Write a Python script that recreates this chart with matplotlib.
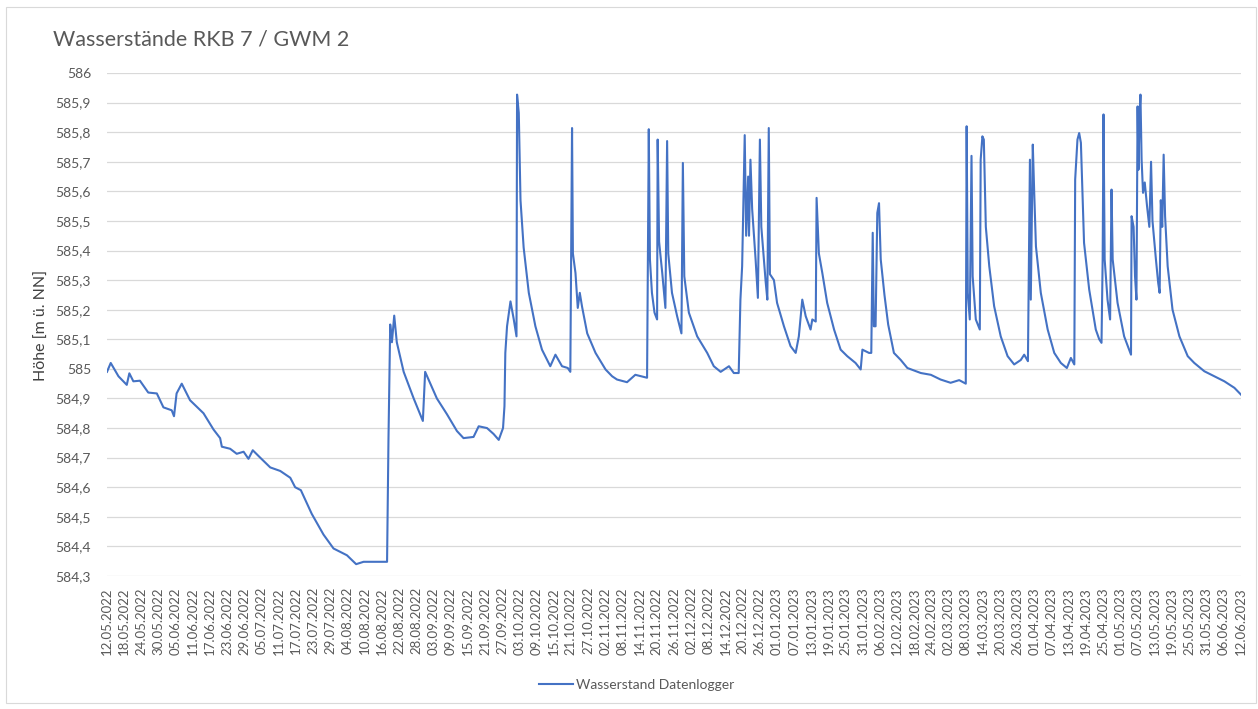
import pandas as pd
import matplotlib
matplotlib.use("Agg")
import matplotlib.pyplot as plt
import matplotlib.dates as mdates
from matplotlib.patches import Rectangle
from matplotlib.ticker import FuncFormatter

plt.rcParams["font.family"] = ["Lato", "DejaVu Sans"]

# Messreihe Datenlogger (Tage ab 12.05.2022, Wasserstand in m ü. NN)
start = pd.Timestamp("2022-05-12")
ende = pd.Timestamp("2023-06-12")

tage = [
    0, 1.3, 4.0, 6.9, 7.8, 9.2, 11.5, 14.4, 17.4, 19.7, 22.6, 23.4, 24.3, 26.1,
    29.0, 33.7, 37.2, 39.5, 40.1, 43.0, 45.3, 47.7, 49.4, 50.9, 53.5, 57.0,
    60.5, 64.0, 65.7, 67.7, 71.5, 75.6, 79.1, 83.8, 87.0, 89.6, 97.8, 98.3,
    98.9, 99.5, 100.3, 101.2, 103.6, 107.1, 110.3, 111.1, 115.2, 118.7, 122.2,
    124.5, 128.0, 129.8, 132.7, 135.0, 136.8, 138.3, 138.8, 139.1, 139.7,
    140.9, 142.0, 143.0, 143.2, 143.8, 144.4, 145.5, 147.3, 149.6, 151.9,
    154.8, 156.6, 158.9, 160.9, 161.8, 162.4, 162.7, 163.6, 164.4, 165.1,
    165.9, 167.7, 170.6, 174.1, 176.4, 178.1, 181.6, 184.5, 188.6, 189.2,
    189.6, 190.3, 191.2, 192.1, 192.3, 192.8, 193.9, 195.0, 195.6, 196.0,
    197.3, 199.1, 200.6, 201.1, 201.6, 203.2, 206.1, 209.6, 211.9, 214.3,
    217.2, 218.9, 220.6, 221.2, 221.8, 222.7, 223.2, 223.9, 224.2, 224.7,
    225.3, 226.5, 227.3, 228.0, 228.5, 230.0, 230.6, 231.1, 231.5, 232.9,
    234.0, 236.4, 238.7, 240.5, 241.6, 242.8, 244.0, 245.7, 246.3, 247.5,
    247.8, 248.6, 249.8, 251.5, 253.9, 256.2, 258.5, 261.4, 263.2, 263.8,
    266.1, 266.9, 267.4, 267.8, 268.4, 269.0, 269.6, 270.2, 271.5, 272.8,
    274.8, 277.2, 279.5, 284.2, 287.7, 291.1, 294.6, 297.6, 299.9, 300.2,
    300.6, 301.3, 301.9, 302.3, 303.4, 304.8, 305.1, 305.7, 306.2, 306.9,
    308.1, 309.8, 312.1, 314.5, 316.8, 319.1, 320.3, 321.6, 322.3, 322.6,
    323.3, 323.8, 324.4, 326.1, 328.5, 330.8, 333.1, 335.2, 336.6, 337.8,
    338.1, 338.9, 339.5, 340.1, 341.2, 343.0, 345.3, 346.5, 347.3, 347.7,
    348.0, 348.4, 349.4, 350.3, 350.8, 351.2, 352.9, 355.2, 357.6, 357.8,
    358.5, 359.0, 359.5, 359.9, 360.2, 360.6, 360.9, 361.3, 361.8, 362.4,
    363.2, 364.0, 364.6, 365.1, 366.3, 367.1, 367.6, 368.0, 368.5, 369.0,
    369.5, 370.4, 372.1, 374.5, 377.4, 379.7, 383.2, 386.7, 390.2, 393.7,
    396.0,
]

hoehe = [
    584.99, 585.02, 584.975, 584.946, 584.985, 584.958, 584.96, 584.92,
    584.917, 584.87, 584.86, 584.84, 584.917, 584.95, 584.894, 584.85,
    584.795, 584.766, 584.737, 584.73, 584.713, 584.72, 584.696, 584.725,
    584.70, 584.667, 584.655, 584.632, 584.60, 584.59, 584.51, 584.44,
    584.393, 584.37, 584.34, 584.348, 584.348, 584.766, 585.15, 585.09,
    585.18, 585.09, 584.99, 584.90, 584.824, 584.99, 584.90, 584.847, 584.79,
    584.766, 584.77, 584.806, 584.80, 584.78, 584.76, 584.80, 584.874,
    585.054, 585.144, 585.228, 585.17, 585.11, 585.927, 585.865, 585.57,
    585.41, 585.257, 585.144, 585.065, 585.009, 585.048, 585.009, 585.003,
    584.99, 585.814, 585.39, 585.324, 585.206, 585.257, 585.21, 585.12,
    585.054, 584.998, 584.975, 584.964, 584.955, 584.98, 584.97, 585.81,
    585.37, 585.257, 585.19, 585.167, 585.775, 585.43, 585.324, 585.206,
    585.77, 585.39, 585.257, 585.178, 585.12, 585.696, 585.313, 585.19,
    585.11, 585.054, 585.009, 584.99, 585.009, 584.986, 584.986, 585.234,
    585.347, 585.79, 585.45, 585.65, 585.45, 585.707, 585.54, 585.37, 585.24,
    585.775, 585.48, 585.296, 585.234, 585.814, 585.32, 585.30, 585.223,
    585.144, 585.077, 585.054, 585.11, 585.234, 585.178, 585.133, 585.167,
    585.16, 585.578, 585.39, 585.324, 585.223, 585.133, 585.065, 585.043,
    585.02, 584.998, 585.065, 585.054, 585.054, 585.46, 585.144, 585.144,
    585.527, 585.56, 585.37, 585.25, 585.15, 585.054, 585.03, 585.003,
    584.986, 584.98, 584.964, 584.953, 584.962, 584.95, 585.82, 585.257,
    585.167, 585.72, 585.313, 585.167, 585.133, 585.707, 585.786, 585.775,
    585.48, 585.347, 585.212, 585.11, 585.043, 585.015, 585.03, 585.048,
    585.026, 585.707, 585.234, 585.758, 585.595, 585.414, 585.257, 585.133,
    585.054, 585.02, 585.003, 585.037, 585.015, 585.64, 585.775, 585.797,
    585.764, 585.426, 585.268, 585.133, 585.10, 585.088, 585.37, 585.86,
    585.37, 585.234, 585.167, 585.606, 585.37, 585.223, 585.11, 585.048,
    585.516, 585.48, 585.313, 585.234, 585.887, 585.673, 585.865, 585.927,
    585.707, 585.595, 585.63, 585.55, 585.48, 585.70, 585.50, 585.37,
    585.29, 585.257, 585.57, 585.48, 585.724, 585.516, 585.347, 585.20,
    585.11, 585.043, 585.02, 584.992, 584.975, 584.958, 584.936, 584.913,
]

zeit = start + pd.to_timedelta(tage, unit="D")
y_ticks = [round(584.3 + 0.1 * i, 1) for i in range(18)]
x_ticks = pd.date_range(start, ende, freq="6D")

grau = "#595959"
blau = "#4472C4"

fig = plt.figure(figsize=(12.58, 7.09), dpi=100)
fig.patches.append(Rectangle((6 / 1258, 6 / 709), 1250 / 1258, 696 / 709,
                             transform=fig.transFigure, fill=False,
                             edgecolor="#D9D9D9", linewidth=0.8))

ax = fig.add_axes([0.08506, 0.18759, 0.9014, 0.70945])
linie, = ax.plot(zeit, hoehe, color=blau, linewidth=1.5,
                 label="Wasserstand Datenlogger")

ax.set_xlim(start, ende)
ax.set_ylim(584.3, 586)
ax.set_yticks(y_ticks)
ax.yaxis.set_major_formatter(FuncFormatter(
    lambda v, p: f"{v:.1f}".rstrip("0").rstrip(".").replace(".", ",")))
ax.set_xticks(x_ticks)
ax.xaxis.set_major_formatter(mdates.DateFormatter("%d.%m.%Y"))

ax.grid(axis="y", color="#D9D9D9", linewidth=0.9)
ax.set_axisbelow(True)
for s in ax.spines.values():
    s.set_visible(False)
ax.tick_params(axis="y", length=0, pad=11.5, labelsize=10, labelcolor=grau)
ax.tick_params(axis="x", length=0, pad=8, labelsize=9.5, labelcolor=grau,
               labelrotation=90)

fig.text(53 / 1258, 1 - 45 / 709, "Wasserstände RKB 7 / GWM 2",
         fontsize=15.5, color=grau, ha="left", va="baseline")
fig.text(41.7 / 1258, 1 - 325 / 709, "Höhe [m ü. NN]", rotation=90,
         fontsize=11.5, color="#404040", ha="center", va="center")

fig.legend(handles=[linie], loc="center", bbox_to_anchor=(0.506, 1 - 685 / 709),
           frameon=False, fontsize=10, labelcolor=grau, handlelength=2.5,
           handletextpad=0.2)

fig.savefig("out.png", dpi=100)
